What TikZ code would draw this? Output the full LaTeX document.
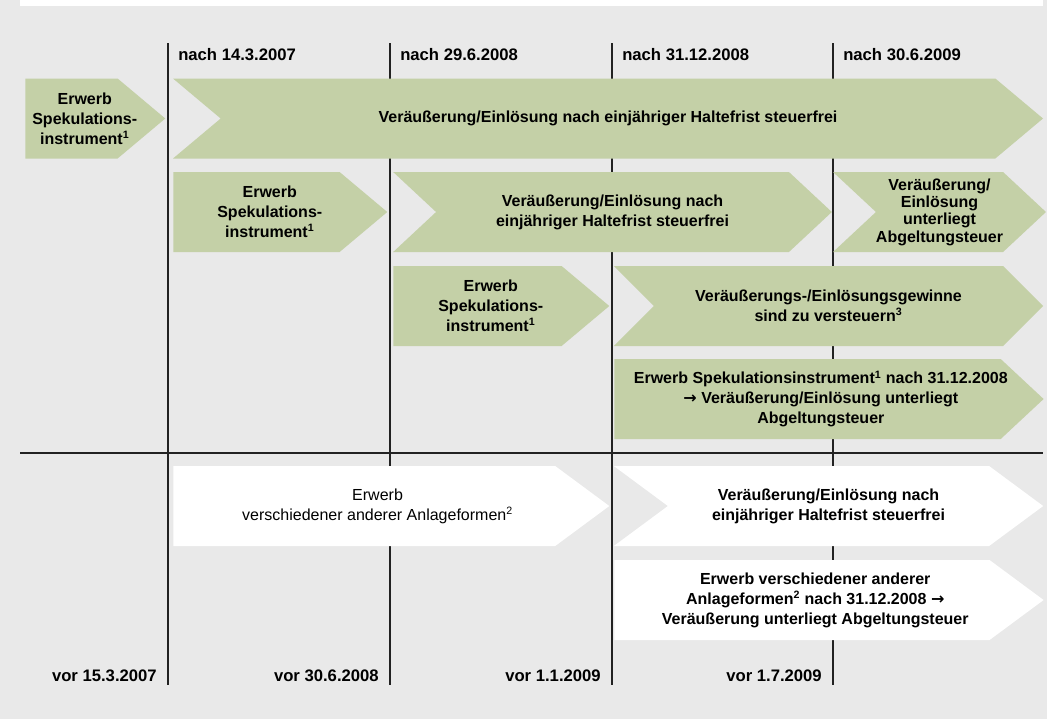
\documentclass[tikz,border=0pt]{standalone}
\usepackage{fontspec}
\setmainfont{Liberation Sans}
\newfontfamily\arrowfont{DejaVu Sans}
\usetikzlibrary{shapes.symbols,positioning}
\definecolor{leafgreen}{HTML}{C4D0A7}
\definecolor{panelgray}{HTML}{E9E9E9}
\definecolor{gridline}{HTML}{222222}
\newcommand{\fn}[1]{\textsuperscript{#1}}
\newcommand{\thenarrow}{{\arrowfont\bfseries\char"2192}}

\begin{document}
\begin{tikzpicture}[
  x=0.75pt, y=-0.75pt,
  font=\fontsize{12}{15}\selectfont\bfseries,
  buy/.style={signal, signal to=east, fill=leafgreen, align=center,
    minimum height=60pt, inner sep=0pt, signal pointer angle=80, anchor=west},
  hold/.style={buy, signal from=west, anchor=center},
  plainbuy/.style={buy, fill=white, signal pointer angle=73},
  plainhold/.style={plainbuy, signal from=west, anchor=center},
  boxtext/.style={align=center, xshift=10pt},
  date/.style={inner sep=0pt, font=\fontsize{12.5}{15}\selectfont\bfseries}
]
\useasboundingbox (0,0) rectangle (1049,719);
% panel
\fill[panelgray] (0,0) rectangle (1047,719);
\fill[white] (20,0) rectangle (1043,6);

% time grid
\foreach \gx in {168,390,612,833}
  \draw[gridline, line width=1pt] (\gx,43) -- (\gx,685);
\draw[gridline, line width=1pt] (20,453) -- (1043,453);

% dates
\node[date, anchor=west] (n1) at (178,55) {nach 14.3.2007};
\node[date, anchor=west] (n2) at (400,55) {nach 29.6.2008};
\node[date, anchor=west] (n3) at (622,55) {nach 31.12.2008};
\node[date, anchor=west] (n4) at (843,55) {nach 30.6.2009};
\node[date, anchor=east] (v1) at (157,676) {vor 15.3.2007};
\node[date, anchor=east] (v2) at (379,676) {vor 30.6.2008};
\node[date, anchor=east] (v3) at (601,676) {vor 1.1.2009};
\node[date, anchor=east] (v4) at (822,676) {vor 1.7.2009};

% Spekulationsinstrumente
\node[buy, minimum width=105pt,
  label={[boxtext]center:Erwerb\\Spekulations-\\instrument\fn{1}}] (a1) at (25,118.5) {};
\node[hold, minimum width=652.5pt] (b1) at (608,118.5)
  {Veräußerung/Einlösung nach einjähriger Haltefrist steuerfrei};
\node[buy, minimum width=160.5pt,
  label={[boxtext]center:Erwerb\\Spekulations-\\instrument\fn{1}}] (a2) at (173,212) {};
\node[hold, minimum width=329pt, signal pointer angle=86] (b2) at (612.5,212)
  {Veräußerung/Einlösung nach\\einjähriger Haltefrist steuerfrei};
\node[hold, minimum width=155pt, signal pointer angle=86,
  font=\fontsize{12}{13}\selectfont\bfseries] (c2) at (939.5,212)
  {Veräußerung/\\Einlösung\\unterliegt\\Abgeltungsteuer};
\node[buy, minimum width=162pt,
  label={[boxtext]center:Erwerb\\Spekulations-\\instrument\fn{1}}] (a3) at (393,306) {};
\node[hold, minimum width=322pt, signal pointer angle=90] (b3) at (828.5,306)
  {Veräußerungs-/Einlösungsgewinne\\sind zu versteuern\fn{3}};
\node[buy, minimum width=322pt, signal pointer angle=86,
  label={[boxtext]center:Erwerb Spekulationsinstrument\fn{1} nach 31.12.2008\\
   \thenarrow{} Veräußerung/Einlösung unterliegt\\Abgeltungsteuer}] (a4) at (614,399) {};

% andere Anlageformen
\node[plainbuy, minimum width=327pt,
  label={[boxtext, font=\fontsize{12}{15}\selectfont\mdseries]center:Erwerb\\verschiedener anderer Anlageformen\fn{2}}] (w1) at (173,506) {};
\node[plainhold, minimum width=322pt] (w2) at (828.5,506)
  {Veräußerung/Einlösung nach\\einjähriger Haltefrist steuerfrei};
\node[plainbuy, minimum width=322pt,
  label={[boxtext]center:Erwerb verschiedener anderer\\Anlageformen\fn{2} nach 31.12.2008 \thenarrow\\
   Veräußerung unterliegt Abgeltungsteuer}] (w3) at (614,600) {};
\end{tikzpicture}
\end{document}
